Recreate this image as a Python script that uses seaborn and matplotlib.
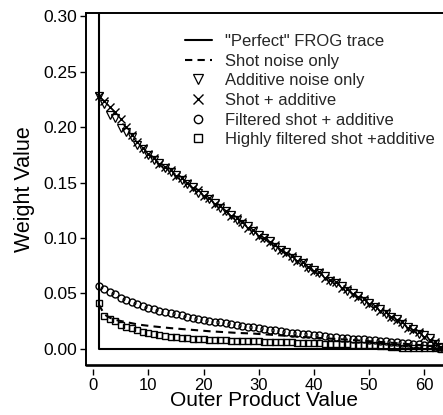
import numpy as np
import pandas as pd
import matplotlib
matplotlib.use("Agg")
import matplotlib.pyplot as plt
import seaborn as sns

# ---------------- data ----------------
outer_product = list(range(1, 65))

perfect = [1.0] + [0.0] * 63

shot_only = [0.040, 0.031, 0.028, 0.026, 0.025, 0.024, 0.023, 0.022, 0.0213, 0.0207,
             0.0201, 0.0196, 0.0191, 0.0186, 0.0182, 0.0178, 0.0174, 0.0170, 0.0166, 0.0162,
             0.0158, 0.0155, 0.0152, 0.0149, 0.0146, 0.0143, 0.0141, 0.0139, 0.0137, 0.0133,
             0.0130, 0.0127, 0.0123, 0.0120, 0.0116, 0.0113, 0.0110, 0.0106, 0.0103, 0.0100,
             0.0097, 0.0094, 0.0091, 0.0088, 0.0085, 0.0082, 0.0078, 0.0075, 0.0071, 0.0068,
             0.0065, 0.0061, 0.0058, 0.0054, 0.0050, 0.0046, 0.0042, 0.0038, 0.0034, 0.0030,
             0.0024, 0.0017, 0.0010, 0.0003]

additive_only = [0.228, 0.221, 0.211, 0.208, 0.199, 0.196, 0.191, 0.184, 0.180, 0.175,
                 0.170, 0.168, 0.163, 0.160, 0.157, 0.152, 0.149, 0.146, 0.141, 0.139,
                 0.135, 0.132, 0.127, 0.124, 0.121, 0.116, 0.113, 0.111, 0.106, 0.103,
                 0.100, 0.097, 0.092, 0.089, 0.087, 0.082, 0.080, 0.077, 0.073, 0.071,
                 0.068, 0.066, 0.061, 0.059, 0.057, 0.052, 0.050, 0.048, 0.043, 0.041,
                 0.038, 0.036, 0.031, 0.029, 0.027, 0.022, 0.020, 0.018, 0.013, 0.012,
                 0.010, 0.004, 0.002, 0.000]

shot_additive = [0.228, 0.224, 0.218, 0.214, 0.207, 0.200, 0.193, 0.187, 0.181, 0.176,
                 0.172, 0.167, 0.164, 0.161, 0.156, 0.154, 0.150, 0.145, 0.143, 0.138,
                 0.136, 0.131, 0.129, 0.124, 0.120, 0.118, 0.114, 0.109, 0.107, 0.102,
                 0.100, 0.096, 0.094, 0.089, 0.086, 0.084, 0.079, 0.078, 0.074, 0.070,
                 0.069, 0.064, 0.062, 0.060, 0.055, 0.054, 0.049, 0.047, 0.045, 0.040,
                 0.039, 0.034, 0.033, 0.029, 0.026, 0.024, 0.019, 0.017, 0.015, 0.011,
                 0.008, 0.006, 0.001, 0.001]

filtered = [0.057, 0.054, 0.051, 0.049, 0.046, 0.044, 0.042, 0.040, 0.0385, 0.037,
            0.0355, 0.034, 0.033, 0.032, 0.031, 0.030, 0.029, 0.028, 0.027, 0.026,
            0.0253, 0.0245, 0.0238, 0.023, 0.0223, 0.0215, 0.0208, 0.020, 0.0193, 0.0185,
            0.0178, 0.017, 0.0165, 0.016, 0.0152, 0.0145, 0.014, 0.0135, 0.013, 0.0125,
            0.012, 0.0115, 0.011, 0.0105, 0.010, 0.0095, 0.0092, 0.0088, 0.0084, 0.008,
            0.0075, 0.007, 0.0066, 0.0062, 0.0058, 0.0055, 0.005, 0.0045, 0.004, 0.0035,
            0.003, 0.002, 0.0015, 0.001]

highly_filtered = [0.041, 0.0295, 0.0265, 0.025, 0.0215, 0.020, 0.0184, 0.0168, 0.0153, 0.0139,
                   0.0132, 0.0123, 0.0114, 0.0108, 0.0103, 0.0098, 0.0094, 0.009, 0.0087, 0.0084,
                   0.0082, 0.008, 0.0078, 0.0076, 0.0074, 0.0072, 0.0071, 0.0069, 0.0068, 0.0066,
                   0.0065, 0.0063, 0.0062, 0.006, 0.0059, 0.0057, 0.0055, 0.0054, 0.0052, 0.005,
                   0.0048, 0.0046, 0.0045, 0.0043, 0.0041, 0.004, 0.0038, 0.0036, 0.0035, 0.0033,
                   0.003, 0.0027, 0.0023, 0.0019, 0.0012, 0.0008, 0.0006, 0.0005, 0.0004, 0.0003,
                   0.0003, 0.0002, 0.0001, 0.0]

labels = ['"Perfect" FROG trace', "Shot noise only", "Additive noise only",
          "Shot + additive", "Filtered shot + additive", "Highly filtered shot +additive"]
x_ticks = [0, 10, 20, 30, 40, 50, 60]
y_ticks = [0.00, 0.05, 0.10, 0.15, 0.20, 0.25, 0.30]

# ---------------- style ----------------
sns.set_theme(style="ticks")
plt.rcParams["font.family"] = ["Liberation Sans", "DejaVu Sans"]

W, H = 443, 415
fig = plt.figure(figsize=(W / 100, H / 100), dpi=100)
ax = fig.add_axes([86 / W, 1 - 365 / H, 1 - 86 / W, (365 - 12.7) / H])

df = pd.DataFrame({"x": outer_product, "perfect": perfect, "shot": shot_only,
                   "add": additive_only, "sa": shot_additive, "filt": filtered,
                   "hfilt": highly_filtered})

common = dict(estimator=None, sort=False, ax=ax, color="black")
sns.lineplot(data=df, x="x", y="perfect", lw=1.5, drawstyle="steps-pre", label=labels[0], **common)
sns.lineplot(data=df, x="x", y="shot", lw=1.5, linestyle=(0, (3.5, 2.5)), label=labels[1], **common)
sns.lineplot(data=df, x="x", y="add", linestyle="", marker="v", ms=5.8, mfc="none",
             mec="black", mew=0.9, label=labels[2], **common)
sns.lineplot(data=df, x="x", y="sa", linestyle="", marker="x", ms=5.6,
             mec="black", mew=1.0, label=labels[3], **common)
sns.lineplot(data=df, x="x", y="filt", linestyle="", marker="o", ms=5.0, mfc="none",
             mec="black", mew=1.0, label=labels[4], **common)
sns.lineplot(data=df, x="x", y="hfilt", linestyle="", marker="s", ms=4.6, mfc="none",
             mec="black", mew=1.0, label=labels[5], **common)

ax.set_xlim(-1.32, 63.4)
ax.set_ylim(-0.0147, 0.3034)
ax.set_xticks(x_ticks)
ax.set_yticks(y_ticks)
ax.set_yticklabels([f"{v:.2f}" for v in y_ticks])
ax.tick_params(axis="both", direction="out", length=4.5, width=1.0,
               colors="black", pad=2)
ax.tick_params(axis="y", labelsize=12.5)
ax.tick_params(axis="x", labelsize=12, pad=1.5)
ax.minorticks_off()

for s in ["left", "top"]:
    ax.spines[s].set_linewidth(1.4)
    ax.spines[s].set_color("black")
ax.spines["right"].set_visible(False)
ax.spines["bottom"].set_position(("outward", 3))
ax.spines["bottom"].set_color("none")
ax.axhline(ax.get_ylim()[0], color="black", lw=1.9, clip_on=False)

ax.set_xlabel("Outer Product Value", fontsize=15, labelpad=-1, color="black")
ax.set_ylabel("Weight Value", fontsize=15.5, labelpad=6, color="black")

leg = ax.legend(loc="upper left", bbox_to_anchor=(185 / W, 1 - 34 / H),
                bbox_transform=fig.transFigure, frameon=False, fontsize=12,
                handlelength=1.6, handletextpad=0.8, labelspacing=0.28,
                borderpad=0, borderaxespad=0, markerscale=1.2)

fig.savefig("out.png", dpi=100)
